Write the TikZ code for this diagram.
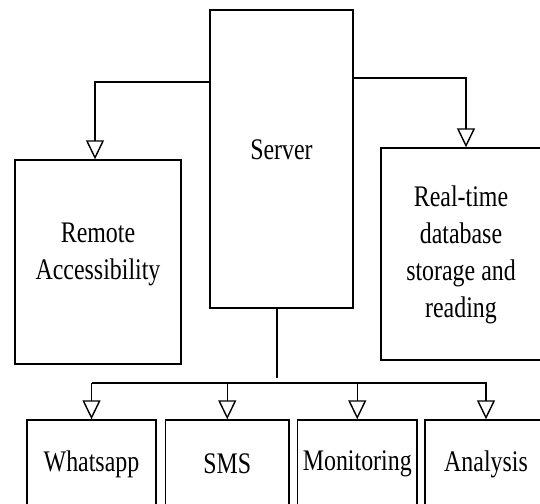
\documentclass[tikz,border=0pt]{standalone}
\usepackage{fontspec}
\setmainfont{Liberation Serif}
\usetikzlibrary{arrows.meta,calc}

\begin{document}
\begin{tikzpicture}[
    txt/.style={xscale=0.8, transform shape, align=center, inner sep=0pt,
      font=\fontsize{17}{21}\selectfont},
    box/.style={draw, line width=0.8pt, inner sep=0pt},
    link/.style={line width=0.8pt},
    arr/.style={line width=0.8pt, -{Triangle[open, width=0.36cm, length=0.38cm]}}
]
    \useasboundingbox (0,0) rectangle (10.8,10.06);

    % Server
    \node[box, minimum width=2.86cm, minimum height=5.96cm,
          label={[txt, yshift=0.18cm]center:Server}] (srv) at (5.63,6.88) {};

    % Upper blocks
    \node[box, minimum width=3.32cm, minimum height=4.08cm,
          label={[txt, yshift=0.16cm]center:Remote\\Accessibility}] (rm) at (1.96,4.82) {};
    \node[box, minimum width=3.20cm, minimum height=4.24cm,
          label={[txt, yshift=-0.02cm]center:Real-time\\database\\storage and\\reading}] (rt) at (9.22,4.98) {};

    % Lower blocks
    \node[box, minimum width=2.58cm, minimum height=1.76cm,
          label={[txt]center:Whatsapp}] (wa) at (1.83,0.78) {};
    \node[box, minimum width=2.47cm, minimum height=1.76cm,
          label={[txt]center:SMS}] (sms) at (4.545,0.78) {};
    \node[box, minimum width=2.39cm, minimum height=1.76cm,
          label={[txt]center:Monitoring}] (mon) at (7.145,0.78) {};
    \node[box, minimum width=2.44cm, minimum height=1.76cm,
          label={[txt]center:Analysis}] (an) at (9.72,0.78) {};

    % Branches to the upper blocks
    \draw[arr] (srv.west |- 0,8.42) -| ([xshift=-0.06cm]rm.north);
    \draw[arr] (srv.east |- 0,8.50) -| ([xshift=0.1cm]rt.north);

    % Bus to the lower blocks
    \coordinate (stem) at ([xshift=-0.09cm]srv.south);
    \coordinate (bus) at (0,2.40);
    \draw[link] (stem) -- ++(0,-1.38);
    \draw[link] (wa.north |- bus) -- ([xshift=0.02cm]an.north |- bus);
    \foreach \n in {wa,sms,mon,an}
        \draw[arr] (\n.north |- bus) -- (\n.north);
\end{tikzpicture}
\end{document}
